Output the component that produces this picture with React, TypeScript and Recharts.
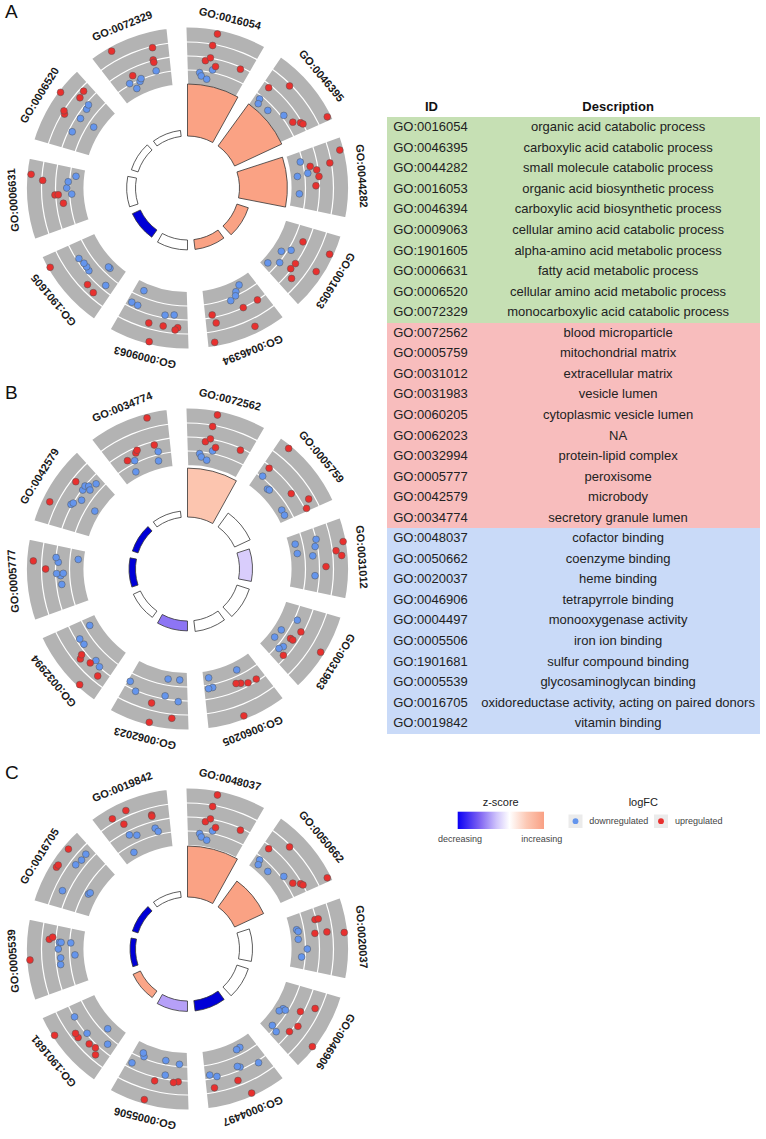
import React from "react";
import {
  PieChart,
  Pie,
  Cell,
  RadarChart,
  Radar,
  RadialBarChart,
  RadialBar,
  PolarAngleAxis,
  PolarRadiusAxis,
} from "recharts";

type Pt = [number, number]; // [angle inside the sector (deg), logFC]

// ---------- panel A ----------
const idsA = ["GO:0016054", "GO:0046395", "GO:0044282", "GO:0016053", "GO:0046394", "GO:0009063", "GO:1901605", "GO:0006631", "GO:0006520", "GO:0072329"];
const descA = ["organic acid catabolic process", "carboxylic acid catabolic process", "small molecule catabolic process", "organic acid biosynthetic process", "carboxylic acid biosynthetic process", "cellular amino acid catabolic process", "alpha-amino acid metabolic process", "fatty acid metabolic process", "cellular amino acid metabolic process", "monocarboxylic acid catabolic process"];
const logpA = [10, 10, 9.2, 2.3, 1.9, 1.9, 1.7, 1.7, 1.35, 1.15];
const zA = [3, 3, 3, 3, 3, 0, -3, 0, 0, 0];
const upA: Pt[][] = [
  [[11, 3.67], [9.6, 2.39], [8.1, 0.69], [9.8, 1.07], [13.4, 0.28], [24.1, 0.85]],
  [[3.4, 0.74], [8.9, 2.35], [21.9, 0.23], [23.5, 0.9], [24.7, 1.06], [26.6, 3.67]],
  [[4.3, 3.68], [8.4, 2.37], [7.5, 0.27], [9.8, 0.89], [13.1, 1.05], [17.1, 0.68]],
  [[7.2, 0.57], [6.6, 3.66], [19.8, 0.95], [16.8, 1.03], [14.6, 3.31], [22.9, 1.67]],
  [[4.1, 1.05], [10.7, 1.05], [25.2, 0.77], [23.5, 1.68], [10.3, 3.36], [25.9, 3.65]],
  [[15.5, 1.94], [9.9, 1.91], [4.8, 2.16], [4, 1.9], [14, 3.83]],
  [[23.6, 3.85], [10.1, 1.79], [5.6, 1.98]],
  [[22.5, 3.68], [21.2, 2.42], [14.5, 1.13], [14.9, 0.78], [11.4, 0.32]],
  [[19.3, 3.89], [25.2, 2.11], [22, 1.94], [14, 2.49], [13.4, 2.26]],
  [[7.3, 3.63], [22.1, 2.38], [20.8, 1.12], [21.1, 0.85], [9.8, 0.31]],
];
const downA: Pt[][] = [
  [[6.2, -0.63], [7.2, -0.96], [10.3, -1.21], [12.1, -0.14]],
  [[3.3, -0.78], [3.6, -1.26], [10.4, -1.09], [17.4, -0.15]],
  [[4.5, -0.66], [11.8, -1.21], [11, -0.09], [21.1, -1.05]],
  [[15.6, -0.93], [13.4, -0.12], [20.8, -0.36], [24.6, -1.28]],
  [[8, -1.28], [10.9, -0.79], [12.3, -0.42], [15.4, -0.14]],
  [[23, -1.1], [26.4, 0.53], [22.5, 0.57], [10.4, 0.75], [6.1, 0.6]],
  [[21.4, 0.79], [18, 0.63], [15.5, 0.63], [14.4, 0.71], [9.2, -1.08], [8, -1.09], [3.8, 0.55]],
  [[23.8, -1.04], [21, -0.27], [18.3, -0.13], [15.4, -0.64]],
  [[21.9, 0.77], [19.5, 0.63], [14.6, 0.59], [7.5, 0.66], [15.3, -1.07]],
  [[20.8, -0.08], [12.5, -0.33], [11.6, -0.56], [9.3, -1.09], [6.6, -0.28]],
];

// ---------- panel B ----------
const idsB = ["GO:0072562", "GO:0005759", "GO:0031012", "GO:0031983", "GO:0060205", "GO:0062023", "GO:0032994", "GO:0005777", "GO:0042579", "GO:0034774"];
const descB = ["blood microparticle", "mitochondrial matrix", "extracellular matrix", "vesicle lumen", "cytoplasmic vesicle lumen", "NA", "protein-lipid complex", "peroxisome", "microbody", "secretory granule lumen"];
const logpB = [9.4, 3.3, 2.5, 2.5, 2.1, 1.9, 1.5, 1.25, 1.15, 1.2];
const zB = [1.7, 0, -0.5, 0, 0, -1.45, 0, -3, -3, 0];
const upB: Pt[][] = [
  [[11, 3.67], [9.6, 2.39], [8.1, 0.69], [9.8, 1.07], [13.4, 0.28], [24.1, 0.85]],
  [[3.9, 3.72], [3.1, 0.81], [17.5, 0.66], [23.7, 1.89], [26.5, 1.22]],
  [[8.4, 3.79], [11, 2.91], [13.1, 3.45], [17.3, 1.74]],
  [[10.9, 0.81], [15.9, 0.24], [16.4, 0.53], [24.4, 0.74], [13.8, 3.68]],
  [[12.7, 0.25], [11, 0.43], [7.9, 0.73], [4.2, 0.82], [15.2, 3.71]],
  [[15.4, 1.76], [6, 2.96], [14, 3.79]],
  [[15.4, 1.5], [13.8, 1.88], [10.1, 1.39], [4, 1.86], [7.3, 3.8]],
  [[21, 3.41], [18, 2.09]],
  [[7.6, 3.29], [19.5, 2.08]],
  [[20.5, 3.62], [20.9, 0.67], [12.5, 0.74], [11.6, 0.53], [6.6, 0.2]],
];
const downB: Pt[][] = [
  [[6.2, -0.63], [7.2, -0.96], [10.3, -1.21], [12.1, -0.14]],
  [[3.4, -0.27], [8.5, -0.94], [10, -0.87], [22, -1.14], [24.5, -1.17]],
  [[4.6, -1.21], [9.9, -1.17], [4.9, 1.05], [7.6, 0.8], [11.6, 0.42], [21.1, 0.6]],
  [[6.5, -0.09], [14.6, -1.07], [19.7, -1.2], [20.5, 0.14], [22.9, -0.09]],
  [[24.7, -1.17], [25.9, -0.05], [23.7, -0.09], [10, -1.02]],
  [[26.6, 0.43], [22.5, 1.14], [9.9, -1.08], [4.4, -1.13], [10.4, 0.72], [3.7, 1.16]],
  [[23.7, -0.96], [21.4, 0.68], [18, 0.63], [8.9, 0.79], [5.7, 1.01]],
  [[22.7, 1.04], [21.2, 0.78], [16.1, 0.94], [14.8, 0.53], [15.7, 0.24], [11.2, 0.49], [23.2, -1.3]],
  [[10.7, 1.18], [11.5, 1.04], [15.1, 0.45], [19, 0.97], [21, 1.04], [21.7, 0.73], [21, 0.37], [25.3, 0.31], [14.2, -1.34]],
  [[21.8, -0.1], [21.4, -1.06], [9.7, -0.16], [7.5, -1.26]],
];

// ---------- panel C ----------
const idsC = ["GO:0048037", "GO:0050662", "GO:0020037", "GO:0046906", "GO:0004497", "GO:0005506", "GO:1901681", "GO:0005539", "GO:0016705", "GO:0019842"];
const descC = ["cofactor binding", "coenzyme binding", "heme binding", "tetrapyrrole binding", "monooxygenase activity", "iron ion binding", "sulfur compound binding", "glycosaminoglycan binding", "oxidoreductase activity, acting on paired donors", "vitamin binding"];
const logpC = [9.8, 6.15, 2.5, 2.3, 2.0, 2.0, 1.55, 1.05, 1.15, 1.15];
const zC = [3, 3, 0, 0, -3, -0.95, 2.9, -3, -3, 0];
const upC: Pt[][] = [
  [[11, 3.67], [9.6, 2.39], [8.1, 0.69], [9.8, 1.07], [13.4, 0.28], [24.1, 0.85]],
  [[3.4, 0.74], [8.9, 2.35], [21.9, 0.23], [23.5, 0.9], [24.7, 1.06], [26.6, 3.67]],
  [[5.2, 0.93], [5.1, 1.28], [11.3, 0.67], [10.5, 1.94], [12.3, 3.75]],
  [[11.4, 0.75], [7.1, 1.98], [17.2, 1.35], [21.1, 0.97], [20, 3.84]],
  [[15.3, 1.98], [12.3, 3.76], [24.8, 2.04]],
  [[13.8, 1.46], [5.6, 1.29], [4.4, 1.17], [15.5, 3.65]],
  [[21.1, 3.84], [17.4, 1.92], [14.9, 1.97], [10, 1.54], [7.3, 1.37], [5.3, 1.92]],
  [[14, 3.78], [22, 1.74], [23, 1.4]],
  [[21.9, 3.52], [14.2, 3.42], [15, 3.38]],
  [[6.4, 2.98], [11.6, 3.11], [9.2, 1.91], [21, 1.76], [21.3, 1.63]],
];
const downC: Pt[][] = [
  [[6.2, -0.63], [7.2, -0.96], [10.3, -1.21], [12.1, -0.14]],
  [[3.3, -0.78], [3.6, -1.26], [10.4, -1.09], [17.4, -0.15]],
  [[8.1, -1.18], [9.1, -1.04], [13.4, -1.14], [17.7, -0.23], [21.5, -0.8]],
  [[15.9, -1.2], [14.4, -0.98], [14.3, -0.69], [23.7, -0.82], [24.6, -0.08]],
  [[9.6, -1.05], [7.9, -1.11], [4.4, 1.27], [12.5, 0.59], [11.7, 0.76], [25.9, 0.63], [23.4, 0.93]],
  [[22.6, -0.95], [22, -0.62], [26.1, 0.49], [10.5, -0.88], [3.7, -0.67], [9.7, 0.64]],
  [[23.4, 1.03], [13.6, 0.96], [8.6, -0.97], [3.9, 0.24]],
  [[20.5, 0.66], [20.6, 0.48], [20.5, -0.54], [17.6, 0.76], [14.6, -0.98], [14.3, 0.54], [10.8, 0.61]],
  [[25.1, 1.79], [21.7, 1.72], [19.2, 1.89], [7.3, 1.68], [10.9, -0.92], [11.7, -1.02]],
  [[9, 0.63], [12.2, 0.27], [20.9, 0.32], [21.6, -0.09], [7.1, -1.21]],
];

const FONT = "'Liberation Sans', Arial, Helvetica, sans-serif";
const SIZE = 380;
const CX = 187.5;
const CY = 188;
const M = { top: 0, right: 0, bottom: 0, left: 0 };
const SLOTS = 360;
const GRID = [118, 132, 146];
const UP = "#e8302e";
const DOWN = "#6495ed";

const Z_STOPS: [number, number[]][] = [
  [-3, [0, 0, 215]],
  [-2, [95, 70, 238]],
  [-1, [178, 155, 248]],
  [0, [255, 255, 255]],
  [1, [253, 218, 203]],
  [2, [251, 188, 163]],
  [3, [250, 162, 132]],
];

function zColor(z: number) {
  const v = Math.max(-3, Math.min(3, z));
  for (let i = 1; i < Z_STOPS.length; i++) {
    const [z0, c0] = Z_STOPS[i - 1];
    const [z1, c1] = Z_STOPS[i];
    if (v <= z1) {
      const t = (v - z0) / (z1 - z0);
      return `rgb(${c0.map((c, k) => Math.round(c + (c1[k] - c) * t)).join(",")})`;
    }
  }
  return "#fff";
}

// one row per degree around the circle, several keys where genes overlap
function buildDots(up: Pt[][], down: Pt[][]) {
  const rows: Record<string, number>[] = Array.from({ length: SLOTS }, (_, k) => ({ slot: k }));
  const place = (sets: Pt[][], prefix: string) => {
    let depth = 0;
    sets.forEach((pts, s) =>
      pts.forEach(([a, v]) => {
        const k = Math.round(s * 36 + a) % SLOTS;
        let j = 0;
        while (rows[k][prefix + j] != null) j++;
        rows[k][prefix + j] = v;
        depth = Math.max(depth, j + 1);
      })
    );
    return Array.from({ length: depth }, (_, j) => prefix + j);
  };
  const downKeys = place(down, "dn");
  const upKeys = place(up, "up");
  return { rows, upKeys, downKeys };
}

const dotFn = (color: string) => (p: any) => {
  const val = p.value ?? p.payload?.value;
  const ok =
    val != null &&
    Number.isFinite(Number(val)) &&
    Number.isFinite(p.cx) &&
    Number.isFinite(p.cy) &&
    Math.hypot(p.cx - CX, p.cy - CY) > 60;
  if (!ok) return <g key={p.key} />;
  return <circle key={p.key} cx={p.cx} cy={p.cy} r={3.4} fill={color} stroke="#555" strokeWidth={0.5} />;
};

const renderLabel = (p: any) => {
  const theta = 90 - p.midAngle;
  return (
    <text
      x={p.cx}
      y={p.cy - 171}
      transform={`rotate(${theta} ${p.cx} ${p.cy})`}
      textAnchor="middle"
      fontSize={11}
      fontWeight="bold"
      fontFamily={FONT}
      fill="#1a1a1a"
    >
      {p.name}
    </text>
  );
};

interface CircleProps {
  ids: string[];
  logp: number[];
  z: number[];
  up: Pt[][];
  down: Pt[][];
}

const GoCircle: React.FC<CircleProps> = ({ ids, logp, z, up, down }) => {
  const sectors = ids.map((id) => ({ id, v: 1 }));
  const bars = ids.map((id, i) => ({ id, logp: logp[i], z: z[i] }));
  const { rows, upKeys, downKeys } = buildDots(up, down);
  const layer = { position: "absolute", left: 0, top: 0 } as const;

  return (
    <div style={{ position: "relative", width: SIZE, height: SIZE }}>
      <div style={layer}>
        <PieChart width={SIZE} height={SIZE} margin={M}>
          <Pie
            data={sectors}
            dataKey="v"
            nameKey="id"
            cx={CX}
            cy={CY}
            innerRadius={100}
            outerRadius={164.5}
            startAngle={91.8}
            endAngle={-268.2}
            paddingAngle={4.3}
            fill="#b3b3b3"
            stroke="#ffffff"
            strokeWidth={8}
            label={renderLabel}
            labelLine={false}
            isAnimationActive={false}
          />
          {GRID.map((r) => (
            <Pie
              key={r}
              data={[{ v: 1 }]}
              dataKey="v"
              cx={CX}
              cy={CY}
              innerRadius={r - 0.6}
              outerRadius={r + 0.6}
              fill="#ffffff"
              stroke="none"
              isAnimationActive={false}
            />
          ))}
        </PieChart>
      </div>
      <div style={layer}>
        {/* recharts puts category i in the band just before its tick, hence the extra 36 deg */}
        <RadialBarChart
          width={SIZE}
          height={SIZE}
          margin={M}
          cx={CX}
          cy={CY}
          data={bars}
          layout="centric"
          innerRadius={52}
          outerRadius={104}
          startAngle={57.5}
          endAngle={-302.5}
          barCategoryGap="9.7%"
        >
          <PolarAngleAxis type="category" dataKey="id" tick={false} axisLine={false} />
          <PolarRadiusAxis type="number" domain={[0, 10]} tick={false} axisLine={false} />
          <RadialBar dataKey="logp" stroke="#333" strokeWidth={0.8} isAnimationActive={false}>
            {bars.map((b) => (
              <Cell key={b.id} fill={zColor(b.z)} />
            ))}
          </RadialBar>
        </RadialBarChart>
      </div>
      <div style={layer}>
        <RadarChart
          width={SIZE}
          height={SIZE}
          margin={M}
          cx={CX}
          cy={CY}
          data={rows}
          innerRadius={103}
          outerRadius={160}
          startAngle={90}
          endAngle={-270}
        >
          <PolarAngleAxis dataKey="slot" tick={false} axisLine={false} />
          <PolarRadiusAxis type="number" domain={[-2, 4]} tick={false} axisLine={false} />
          {downKeys.map((k) => (
            <Radar key={k} dataKey={k} fill="none" stroke="none" dot={dotFn(DOWN)} isAnimationActive={false} />
          ))}
          {upKeys.map((k) => (
            <Radar key={k} dataKey={k} fill="none" stroke="none" dot={dotFn(UP)} isAnimationActive={false} />
          ))}
        </RadarChart>
      </div>
    </div>
  );
};

const panels = [
  { letter: "A", top: 0, ids: idsA, logp: logpA, z: zA, up: upA, down: downA },
  { letter: "B", top: 381, ids: idsB, logp: logpB, z: zB, up: upB, down: downB },
  { letter: "C", top: 761, ids: idsC, logp: logpC, z: zC, up: upC, down: downC },
];

const tableGroups = [
  { ids: idsA, desc: descA, bg: "#c6e0b4" },
  { ids: idsB, desc: descB, bg: "#f8bdbd" },
  { ids: idsC, desc: descC, bg: "#c9daf8" },
];

const ROW_H = 20.55;
const T_TOP = 117.3;
const T_LEFT = 386.7;
const T_W = 373.3;
const ID_W = 89.5;

const TermTable = () => {
  const rows = tableGroups.flatMap((g) => g.ids.map((id, i) => ({ id, desc: g.desc[i], bg: g.bg })));
  return (
    <div style={{ position: "absolute", left: T_LEFT, top: T_TOP - 20.5, width: T_W, fontFamily: FONT, fontSize: 13, color: "#222" }}>
      <div style={{ display: "flex", height: 20.5, lineHeight: "20.5px", fontWeight: "bold", color: "#111" }}>
        <div style={{ width: ID_W, textAlign: "center" }}>ID</div>
        <div style={{ flex: 1, textAlign: "center" }}>Description</div>
      </div>
      {rows.map((r) => (
        <div key={r.id} style={{ display: "flex", height: ROW_H, lineHeight: `${ROW_H}px`, background: r.bg, whiteSpace: "nowrap" }}>
          <div style={{ width: ID_W, paddingLeft: 6.5, boxSizing: "border-box" }}>{r.id}</div>
          <div style={{ flex: 1, textAlign: "center" }}>{r.desc}</div>
        </div>
      ))}
    </div>
  );
};

const LegendBox = () => (
  <svg width={386} height={80} style={{ position: "absolute", left: 380, top: 770 }} fontFamily={FONT}>
    <defs>
      <linearGradient id="zgrad" x1="0" x2="1" y1="0" y2="0">
        <stop offset="0%" stopColor="#0a00f5" />
        <stop offset="25%" stopColor="#7d61f2" />
        <stop offset="45%" stopColor="#cfc3fb" />
        <stop offset="60%" stopColor="#ffffff" />
        <stop offset="80%" stopColor="#fcc8b4" />
        <stop offset="100%" stopColor="#f9a084" />
      </linearGradient>
    </defs>
    <text x={120.7} y={35.5} fontSize={11} textAnchor="middle" fill="#222">z-score</text>
    <rect x={77.7} y={41.7} width={86.3} height={17.3} fill="url(#zgrad)" />
    <text x={80} y={72} fontSize={9} textAnchor="middle" fill="#444">decreasing</text>
    <text x={161.7} y={72} fontSize={9} textAnchor="middle" fill="#444">increasing</text>
    <text x={263.3} y={35.5} fontSize={11} textAnchor="middle" fill="#222">logFC</text>
    <rect x={188.5} y={44.5} width={14} height={13.5} fill="#ebebeb" />
    <circle cx={195.5} cy={51.2} r={2.9} fill={DOWN} />
    <text x={209.3} y={54.3} fontSize={9} fill="#444">downregulated</text>
    <rect x={274} y={44.5} width={14} height={13.5} fill="#ebebeb" />
    <circle cx={281} cy={51.2} r={2.9} fill={UP} />
    <text x={295} y={54.3} fontSize={9} fill="#444">upregulated</text>
  </svg>
);

export default function App() {
  return (
    <div style={{ position: "absolute", left: 0, top: 0, width: 766, height: 1139, background: "#fff", fontFamily: FONT }}>
      {panels.map((p) => (
        <div key={p.letter} style={{ position: "absolute", left: 0, top: p.top, width: SIZE, height: SIZE }}>
          <GoCircle ids={p.ids} logp={p.logp} z={p.z} up={p.up} down={p.down} />
          <div style={{ position: "absolute", left: 5, top: 1.5, fontSize: 19, lineHeight: "19px", color: "#111" }}>{p.letter}</div>
        </div>
      ))}
      <TermTable />
      <LegendBox />
    </div>
  );
}
